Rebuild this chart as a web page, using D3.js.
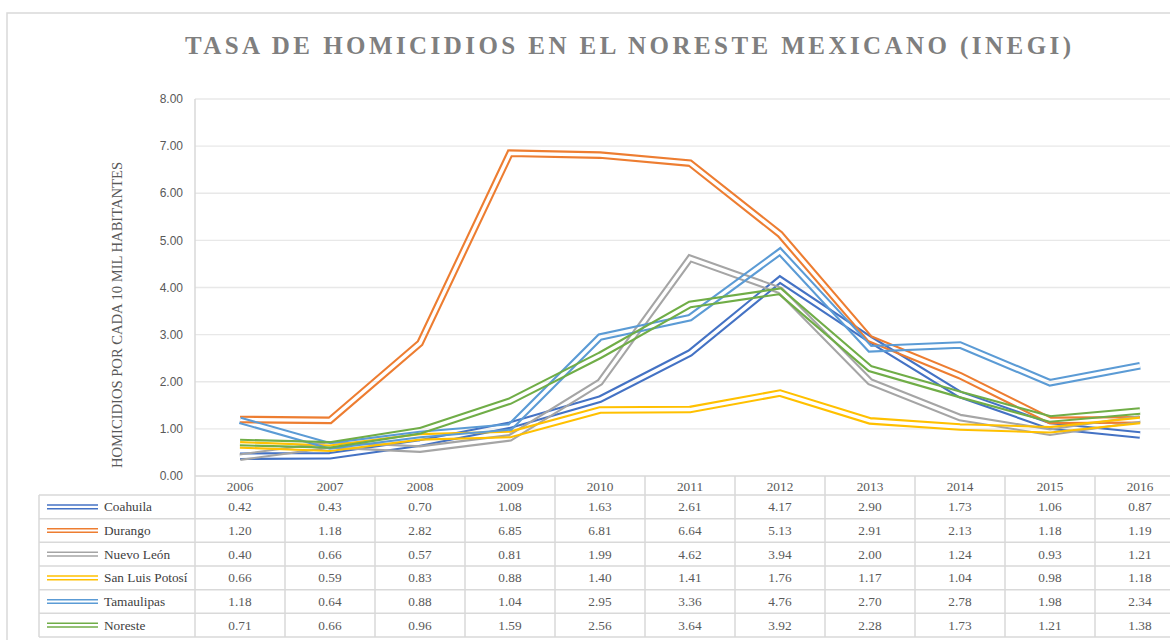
<!DOCTYPE html>
<html>
<head>
<meta charset="utf-8">
<script src="https://cdn.jsdelivr.net/npm/d3@7"></script>
<style>
  body { margin: 0; background: #fff; }
  svg { display: block; }
</style>
</head>
<body>
<div id="chart"></div>
<script>
// data
const years = [2006, 2007, 2008, 2009, 2010, 2011, 2012, 2013, 2014, 2015, 2016];
const seriesNames = ["Coahuila", "Durango", "Nuevo León", "San Luis Potosí", "Tamaulipas", "Noreste"];
const coahuila = [0.42, 0.43, 0.70, 1.08, 1.63, 2.61, 4.17, 2.90, 1.73, 1.06, 0.87];
const durango = [1.20, 1.18, 2.82, 6.85, 6.81, 6.64, 5.13, 2.91, 2.13, 1.18, 1.19];
const nuevoLeon = [0.40, 0.66, 0.57, 0.81, 1.99, 4.62, 3.94, 2.00, 1.24, 0.93, 1.21];
const sanLuis = [0.66, 0.59, 0.83, 0.88, 1.40, 1.41, 1.76, 1.17, 1.04, 0.98, 1.18];
const tamaulipas = [1.18, 0.64, 0.88, 1.04, 2.95, 3.36, 4.76, 2.70, 2.78, 1.98, 2.34];
const noreste = [0.71, 0.66, 0.96, 1.59, 2.56, 3.64, 3.92, 2.28, 1.73, 1.21, 1.38];
const yTicks = [0, 1, 2, 3, 4, 5, 6, 7, 8];
const colors = ["#4472C4", "#ED7D31", "#A5A5A5", "#FFC000", "#5B9BD5", "#70AD47"];

const series = seriesNames.map((name, i) => ({
  name: name,
  color: colors[i],
  values: [coahuila, durango, nuevoLeon, sanLuis, tamaulipas, noreste][i]
}));

const W = 1170, H = 640;
const serif = "'Liberation Serif', 'Times New Roman', serif";
const sans = "'Liberation Sans', Arial, sans-serif";
const gridColor = "#e8e8e8";
const tableColor = "#d9d9d9";

const svg = d3.select("#chart").append("svg")
  .attr("width", W)
  .attr("height", H);

// outer chart border
svg.append("rect")
  .attr("x", 7).attr("y", 13)
  .attr("width", W + 20).attr("height", H + 20)
  .attr("fill", "#fff")
  .attr("stroke", tableColor)
  .attr("stroke-width", 1.5);

// scales
const x = d3.scaleBand().domain(years).range([195, 1185]);
const y = d3.scaleLinear().domain([0, 8]).range([476, 99]);
const rowY = d3.scaleBand().domain(seriesNames).range([495, 637]);
const cx = d => x(d) + x.bandwidth() / 2;

// title
svg.append("text")
  .attr("x", 185)
  .attr("y", 54)
  .attr("textLength", 886)
  .attr("lengthAdjust", "spacing")
  .attr("font-family", serif)
  .attr("font-weight", "bold")
  .attr("font-size", 25)
  .attr("fill", "#7f7f7f")
  .text("TASA DE HOMICIDIOS EN EL NORESTE MEXICANO (INEGI)");

// gridlines
svg.append("g")
  .selectAll("line")
  .data(yTicks.filter(d => d > 0))
  .join("line")
  .attr("x1", 195).attr("x2", W)
  .attr("y1", d => y(d)).attr("y2", d => y(d))
  .attr("stroke", gridColor)
  .attr("stroke-width", 1.3);

// y axis labels
svg.append("g")
  .selectAll("text")
  .data(yTicks)
  .join("text")
  .attr("x", 183)
  .attr("y", d => y(d))
  .attr("dy", "0.35em")
  .attr("text-anchor", "end")
  .attr("font-family", sans)
  .attr("font-size", 12)
  .attr("fill", "#595959")
  .text(d => d3.format(".2f")(d));

// y axis title
svg.append("text")
  .attr("transform", "translate(122,315) rotate(-90)")
  .attr("text-anchor", "middle")
  .attr("font-family", serif)
  .attr("font-size", 14.6)
  .attr("fill", "#595959")
  .text("HOMICIDIOS POR CADA 10 MIL HABITANTES");

// data table grid
const tbl = svg.append("g")
  .attr("stroke", tableColor)
  .attr("stroke-width", 1.5);
// left axis / legend column border
tbl.append("line").attr("x1", 195).attr("x2", 195).attr("y1", 99).attr("y2", 637);
// header top
tbl.append("line").attr("x1", 195).attr("x2", W).attr("y1", 476).attr("y2", 476);
// row lines
tbl.selectAll(".row-line")
  .data([495].concat(seriesNames.map(n => rowY(n) + rowY.bandwidth())))
  .join("line")
  .attr("x1", 39).attr("x2", W)
  .attr("y1", d => d).attr("y2", d => d);
tbl.append("line").attr("x1", 39).attr("x2", 39).attr("y1", 495).attr("y2", 637);
// column separators
tbl.selectAll(".col-line")
  .data(years.slice(1))
  .join("line")
  .attr("x1", d => x(d)).attr("x2", d => x(d))
  .attr("y1", 476).attr("y2", 637);

// header years
svg.append("g")
  .selectAll("text")
  .data(years)
  .join("text")
  .attr("x", cx)
  .attr("y", 486)
  .attr("dy", "0.35em")
  .attr("text-anchor", "middle")
  .attr("font-family", serif)
  .attr("font-size", 13.3)
  .attr("fill", "#595959")
  .text(d => d);

// table rows: legend key + values
const rows = svg.append("g")
  .selectAll("g")
  .data(series)
  .join("g")
  .attr("transform", d => `translate(0,${rowY(d.name) + rowY.bandwidth() / 2})`);

rows.append("line")
  .attr("x1", 47).attr("x2", 98).attr("y1", -1.8).attr("y2", -1.8)
  .attr("stroke", d => d.color).attr("stroke-width", 1.5);
rows.append("line")
  .attr("x1", 47).attr("x2", 98).attr("y1", 1.8).attr("y2", 1.8)
  .attr("stroke", d => d.color).attr("stroke-width", 1.5);

rows.append("text")
  .attr("x", 104)
  .attr("dy", "0.35em")
  .attr("font-family", serif)
  .attr("font-size", 13.3)
  .attr("fill", "#404040")
  .text(d => d.name);

rows.selectAll(".val")
  .data(d => d.values.map((v, i) => ({ v: v, year: years[i] })))
  .join("text")
  .attr("x", d => cx(d.year))
  .attr("dy", "0.35em")
  .attr("text-anchor", "middle")
  .attr("font-family", serif)
  .attr("font-size", 13.3)
  .attr("fill", "#595959")
  .text(d => d3.format(".2f")(d.v));

// lines: Excel double (compound) stroke, gap cut out with a mask
const line = d3.line()
  .x((d, i) => cx(years[i]))
  .y(d => y(d));

const defs = svg.append("defs");
series.forEach((s, i) => {
  const m = defs.append("mask")
    .attr("id", "gap" + i)
    .attr("maskUnits", "userSpaceOnUse")
    .attr("x", 0).attr("y", 0).attr("width", W).attr("height", H);
  m.append("rect").attr("width", W).attr("height", H).attr("fill", "#fff");
  m.append("path")
    .attr("d", line(s.values))
    .attr("fill", "none")
    .attr("stroke", "#000")
    .attr("stroke-width", 3.4)
    .attr("stroke-linejoin", "miter");
});

svg.append("g")
  .selectAll("path")
  .data(series)
  .join("path")
  .attr("d", d => line(d.values))
  .attr("fill", "none")
  .attr("stroke", d => d.color)
  .attr("stroke-width", 7.6)
  .attr("stroke-linejoin", "miter")
  .attr("mask", (d, i) => `url(#gap${i})`);
</script>
</body>
</html>
